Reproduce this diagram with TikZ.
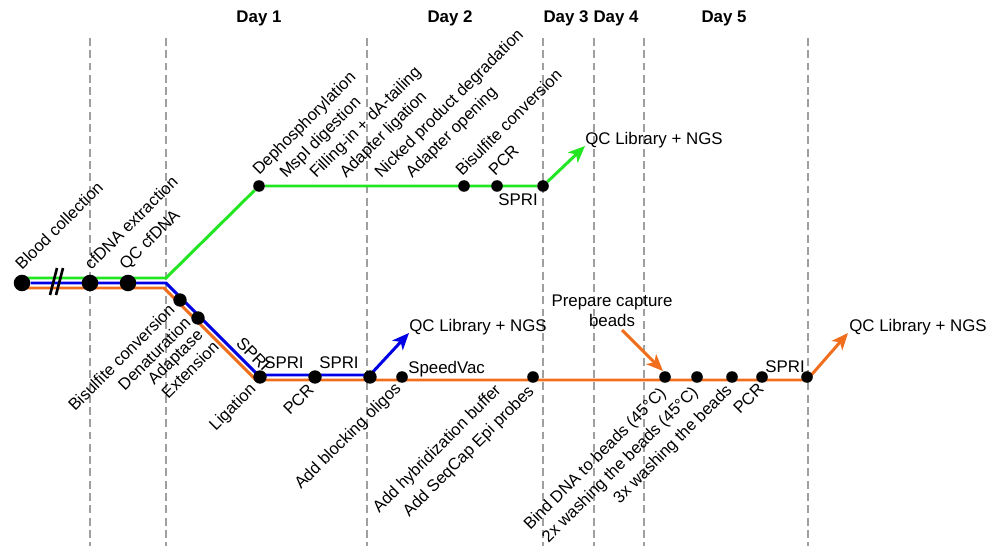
\documentclass[tikz,border=0pt]{standalone}
\usepackage{fontspec}
\setmainfont{Liberation Sans}
\usetikzlibrary{arrows.meta,calc,backgrounds}

\definecolor{dnagreen}{RGB}{34,230,34}
\definecolor{dnablue}{RGB}{0,0,230}
\definecolor{dnaorange}{RGB}{240,110,30}

\begin{document}
\begin{tikzpicture}[x=0.02cm, y=-0.02cm, font=\fontsize{9.6}{11.5}\selectfont,
  bigdot/.style={circle, fill=black, inner sep=0pt, minimum size=9.4pt},
  middot/.style={circle, fill=black, inner sep=0pt, minimum size=7.6pt},
  smalldot/.style={circle, fill=black, inner sep=0pt, minimum size=6.6pt},
  tilt/.style={rotate=45, anchor=base west, inner sep=0pt, font=\fontsize{9.4}{11}\selectfont},
  tiltend/.style={tilt, anchor=base east},
  tiltdown/.style={rotate=-45, anchor=base west, inner sep=0pt},
  plain/.style={anchor=west, inner sep=0pt},
  daylabel/.style={font=\fontsize{9.6}{11.5}\selectfont\bfseries},
  track/.style={line width=1.7pt, line join=round},
  headed/.style={-{Stealth[length=9.5pt,width=8pt,inset=2.5pt]}},
  dayline/.style={gray!75, dash pattern=on 4.5pt off 2.5pt, line width=0.7pt}]
\useasboundingbox (0,0) rectangle (987,550);

% Days
\node[daylabel] (day1) at (259,18) {Day 1};
\node[daylabel] (day2) at (450,18) {Day 2};
\node[daylabel] (day3) at (566,18) {Day 3};
\node[daylabel] (day4) at (616,18) {Day 4};
\node[daylabel] (day5) at (724,18) {Day 5};

% Stations
\node[bigdot] (blood) at (22,283) {};
\node[bigdot] (extract) at (90,283) {};
\node[bigdot] (qccf) at (128,283) {};
\node[middot] (bisul) at (180,300) {};
\node[middot] (denat) at (198,318) {};
\node[middot] (ligat) at (260,377) {};
\node[middot] (pcra) at (315,377) {};
\node[middot] (block) at (370,377) {};
\node[smalldot] (speed) at (402,377) {};
\node[smalldot] (hybrid) at (533,377) {};
\node[smalldot] (bind) at (665,377) {};
\node[smalldot] (washa) at (697,377) {};
\node[smalldot] (washb) at (732,377) {};
\node[smalldot] (pcrb) at (762,377) {};
\node[smalldot] (sprib) at (807,377) {};
\node[smalldot] (dephos) at (259,186) {};
\node[smalldot] (gbisul) at (464,186) {};
\node[smalldot] (gpcr) at (497,186) {};
\node[smalldot] (gspri) at (543,186) {};

% End points
\node[plain] (qcgreen) at (585,140) {QC Library + NGS};
\node[plain] (qcblue) at (409,327) {QC Library + NGS};
\node[plain] (qcorange) at (849,327) {QC Library + NGS};
\node[align=center] (capture) at (612,311) {Prepare capture\\beads};

\coordinate (gtip) at (585,146);
\coordinate (btip) at (409,333);
\coordinate (otip) at (848,333);
\coordinate (ctail) at (622,330);
\coordinate (ctip) at (663,371);
\coordinate (gsplit) at (166,278);
\coordinate (bsplit) at (166,283);
\coordinate (bturn) at (258,375);
\coordinate (osplit) at (164,288);
\coordinate (oturn) at (256,380);

\begin{scope}[on background layer]
\foreach \x in {90,166,367,543,594,644,808}
  \draw[dayline] (\x,38) -- (\x,546);
% Tracks
\draw[track, dnagreen, headed] ($(blood)+(0,-5)$) -- (gsplit) -- (dephos) -- (gspri) -- (gtip);
\draw[track, dnablue, headed] (blood) -- (bsplit) -- (bturn) -- (bturn -| block) -- (btip);
\draw[track, dnaorange, headed] ($(blood)+(0,5)$) -- (osplit) -- (oturn) -- (oturn -| sprib) -- (otip);
\end{scope}
\draw[track, dnaorange, headed] (ctail) -- (ctip);

% Break
\draw[line width=1.5pt] (50,295) -- (57,268) (56,295) -- (63,268);

% Labels above
\node[tilt] (lblood) at (22,271) {Blood collection};
\node[tilt] (lextract) at (91,271) {cfDNA extraction};
\node[tilt] (lqccf) at (126,271) {QC cfDNA};
\node[tilt] (ldephos) at (259,176) {Dephosphorylation};
\node[tilt] (lmspi) at (286,179) {MspI digestion};
\node[tilt] (lfill) at (316,179) {Filling-in + dA-tailing};
\node[tilt] (ladapt) at (346,179) {Adapter ligation};
\node[tilt] (lnick) at (381,179) {Nicked product degradation};
\node[tilt] (lopen) at (412,179) {Adapter opening};
\node[tilt] (lgbis) at (462,177) {Bisulfite conversion};
\node[tilt] (lgpcr) at (495,177) {PCR};
\node (lgspri) at (518,200) {SPRI};

% Labels below
\node[tiltend] (lbisul) at (176,311) {Bisulfite conversion};
\node[tiltend] (ldenat) at (192,324) {Denaturation};
\node[tiltend] (ladaptase) at (204,336) {Adaptase};
\node[tiltend] (lext) at (220,348) {Extension};
\node[tiltdown] (lsprid) at (235,344) {SPRI};
\node[tiltend] (lligat) at (257,390) {Ligation};
\node (lsprib1) at (284,363) {SPRI};
\node (lsprib2) at (339,363) {SPRI};
\node[tiltend] (lpcra) at (315,391) {PCR};
\node[plain] (lspeed) at (408,369) {SpeedVac};
\node[tiltend] (lblock) at (402,389) {Add blocking oligos};
\node[tiltend] (lhybrid) at (502,391) {Add hybridization buffer};
\node[tiltend] (lseqcap) at (535,392) {Add SeqCap Epi probes};
\node[tiltend] (lbind) at (667,394) {Bind DNA to beads (45°C)};
\node[tiltend] (lwasha) at (699,393) {2x washing the beads (45°C)};
\node[tiltend] (lwashb) at (733,391) {3x washing the beads};
\node[tiltend] (lpcrb) at (765,390) {PCR};
\node (lsprio) at (785,367) {SPRI};
\end{tikzpicture}
\end{document}
